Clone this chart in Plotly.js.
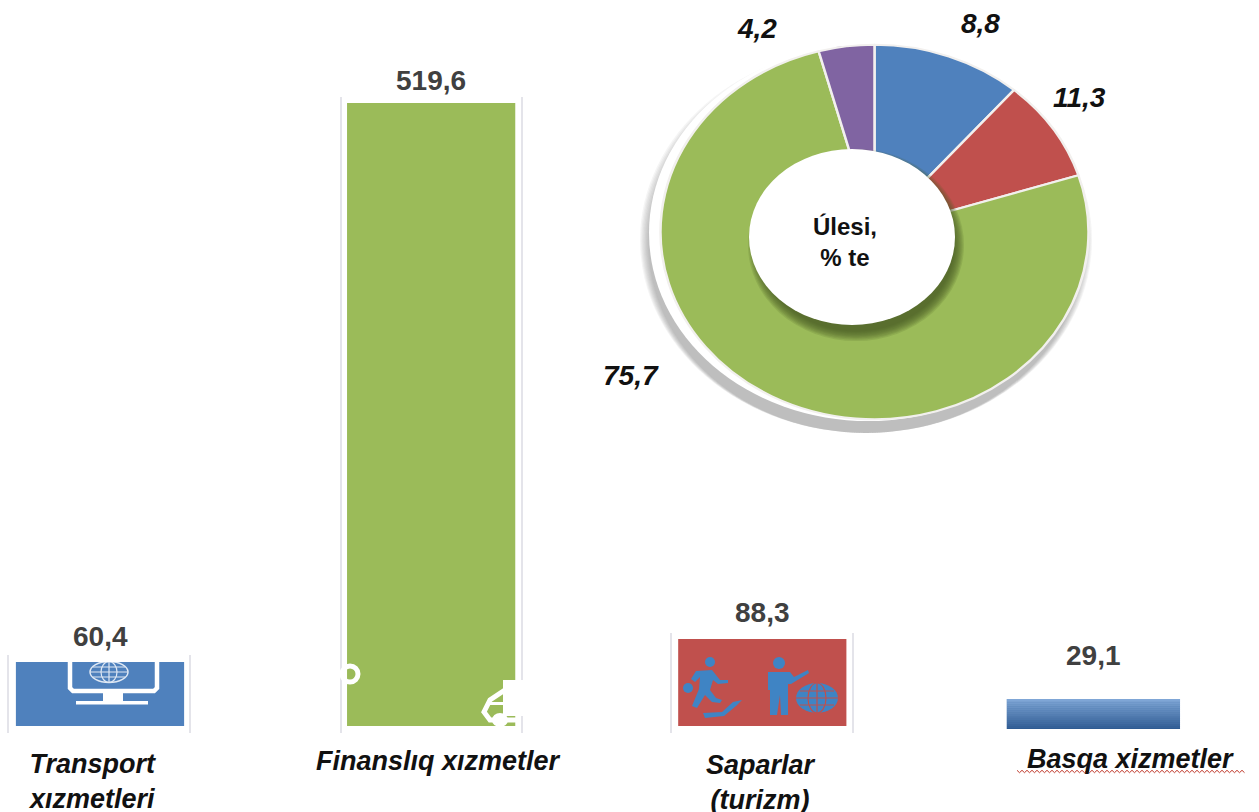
<!DOCTYPE html>
<html>
<head>
<meta charset="utf-8">
<script src="https://cdn.plot.ly/plotly-3.0.1.min.js"></script>
<style>
html,body{margin:0;padding:0;background:#fff;overflow:hidden}
#chart{width:1259px;height:812px}
/* the reference's doughnut is a squashed circle */
.pielayer{transform-origin:874.5px 232px;transform:scaleY(.875)}
</style>
</head>
<body>
<div id="chart"></div>
<script>
// Data
const categories = ['Transport xızmetleri', 'Finanslıq xızmetler', 'Saparlar (turizm)', 'Basqa xizmetler'];
const categoryLabels = ['Transport<br>xızmetleri', 'Finanslıq xızmetler', 'Saparlar<br>(turizm)', 'Basqa xizmetler'];
const printedValues = ['60,4', '519,6', '88,3', '29,1'];
// The reference's bars are not drawn to the scale of their printed values: heights.
const drawnHeights = [53.4, 519.6, 72.5, 25];
const drawnBases = [0, 0, 0, -2.5];
const barColors = ['#4F81BD', '#9BBB59', '#C0504D', '#4F7DB3'];
const barWidths = [0.508, 0.508, 0.508, 0.523];

const shareNames = ['Transport xızmetleri', 'Saparlar (turizm)', 'Finanslıq xızmetler', 'Basqa xizmetler'];
const shareValues = [11.3, 8.8, 75.7, 4.2];        // slice sizes as drawn
const shareColors = ['#4F81BD', '#C0504D', '#9BBB59', '#8064A2'];
const sharePrinted = ['8,8', '11,3', '75,7', '4,2']; // labels as printed beside them
const centreLabel = 'Úlesi,<br>% te';

// Layout helpers (page pixels to paper fractions)
const W = 1259, H = 812;
const px = x => x / W, py = y => 1 - y / H;
const P = (x, y) => px(x) + ' ' + py(y);
const path = (d, fill, lineColor, lineWidth, layer) => {
  const s = d.map(seg => seg[0] + (seg.length > 1 ? P(seg[1], seg[2]) : '')).join(' ');
  return {type:'path', xref:'paper', yref:'paper', path:s, fillcolor:fill||'rgba(0,0,0,0)',
          line:{color:lineColor||'rgba(0,0,0,0)', width:lineWidth||0}, layer:layer||'above'};
};
const ell = (cx, cy, rx, ry, fill, lineColor, lineWidth, layer) => ({
  type:'circle', xref:'paper', yref:'paper', x0:px(cx-rx), x1:px(cx+rx), y0:py(cy+ry), y1:py(cy-ry),
  fillcolor:fill||'rgba(0,0,0,0)', line:{color:lineColor||'rgba(0,0,0,0)', width:lineWidth||0}, layer:layer||'above'});
const poly = (pts, fill, lineColor, lineWidth) =>
  path(pts.map((p,i)=>[(i?'L':'M'),p[0],p[1]]).concat(fill?[['Z']]:[]), fill, lineColor, lineWidth);
const rect = (x0,y0,x1,y1,fill) => poly([[x0,y0],[x1,y0],[x1,y1],[x0,y1]], fill);

const shapes = [];

// Soft shadow and pale rim behind the doughnut
for (let i = 0; i < 8; i++) {
  shapes.push(ell(866, 240 + i*0.6, 226 - i*1.2 , 193 + 0.3*i - i*0.9, 'rgba(120,120,120,0.07)', null, 0, 'below'));
}
shapes.push(ell(868, 233, 219, 188, '#ffffff', null, 0, 'below'));

// Faint picture frames next to the bars
[[8,190,655,733],[341,522,97,733],[671,853,633,733]].forEach(f => {
  shapes.push(poly([[f[0],f[2]],[f[0],f[3]]], null, '#e4e4ea', 2));
  shapes.push(poly([[f[1],f[2]],[f[1],f[3]]], null, '#e4e4ea', 2));
});

// Gradient on the fourth bar, bands computed over the bar's own height
const bands = 16, b3 = 3, gradTop = ['7f','a6','d6'], gradBot = ['2f','5b','92'];
for (let i = 0; i < bands; i++) {
  const t = i / (bands - 1);
  const mix = gradTop.map((h,k)=>Math.round(parseInt(h,16)*(1-t)+parseInt(gradBot[k],16)*t));
  const y1 = drawnBases[b3] + drawnHeights[b3] * (1 - i / bands);
  const y0 = drawnBases[b3] + drawnHeights[b3] * (1 - (i + 1) / bands);
  shapes.push({type:'rect', xref:'x', yref:'y', x0:b3-barWidths[b3]/2, x1:b3+barWidths[b3]/2, y0:y0, y1:y1,
               fillcolor:'rgb('+mix.join(',')+')', line:{width:0}, layer:'above'});
}

// Monitor icon on the first bar
shapes.push(poly([[70,662],[70,688],[73,691],[154,691],[157,688],[157,662]], null, '#fff', 4.5));
shapes.push(rect(103,692,123,703,'#fff'));
shapes.push(rect(76,701,148,704.5,'#fff'));
const gc = '#dfe8f4';
shapes.push(ell(109,672,19,10.5,null,gc,1.5));
shapes.push(ell(109,672,8,10.5,null,gc,1.2));
shapes.push(poly([[109,661.5],[109,682.5]],null,gc,1.2));
shapes.push(poly([[90,672],[128,672]],null,gc,1.2));
shapes.push(poly([[93,667],[125,667]],null,gc,1));
shapes.push(poly([[93,677],[125,677]],null,gc,1));
shapes.push(rect(60,655,165,662,'#fff'));

// Cut-off white glyphs on the second bar
shapes.push(ell(350,674,8,8,null,'#fff',5));
shapes.push(poly([[516,686],[505,690],[490,700],[484,712],[490,720],[516,720]], null, '#fff', 5));
shapes.push(rect(503,680,524,716,'#fff'));
shapes.push(ell(500,720,8,7,'#fff'));
shapes.push(rect(487,702,503,705,'#fff'));

// Blue figures on the third bar
const ic = '#3f84c4';
shapes.push(ell(710,662,5,5,ic));
shapes.push(poly([[696,671],[712,670],[720,680],[728,680],[728,683],[718,684],[713,680],[710,690],[716,698],[722,700],[720,703],[712,702],[705,695],[697,708],[692,706],[699,689],[700,677],[695,682],[691,679]], ic));
shapes.push(ell(688,688,5,5,ic));
shapes.push(poly([[703,713],[722,712],[733,702],[742,700],[736,706],[724,716],[705,718]], ic));
shapes.push(ell(779,663,6,6,ic));
shapes.push(poly([[768,672],[790,672],[794,677],[808,670],[809,673],[791,684],[788,684],[788,715],[781,715],[780,695],[777,715],[770,715],[770,690],[768,690]], ic));
shapes.push(ell(817,698,21,15,ic));
const rc = '#C0504D';
shapes.push(ell(817,698,9,15,null,rc,1.2));
shapes.push(poly([[817,683],[817,713]],null,rc,1.2));
shapes.push(poly([[796,698],[838,698]],null,rc,1.2));
shapes.push(poly([[800,691],[834,691]],null,rc,1));
shapes.push(poly([[800,705],[834,705]],null,rc,1));

// Blurred shadow and white centre of the doughnut
for (let i = 0; i < 9; i++) {
  shapes.push(ell(856, 245, 108 - i*1.2, 96 - i*1.2, 'rgba(75,95,35,0.16)'));
}
shapes.push(ell(852,237,103,88,'#ffffff'));

// Red spell-check squiggle below the last label
const sq = [];
for (let x = 1017, i = 0; x <= 1245; x += 2.5, i++) sq.push([x, 771.5 + (i % 2 ? 1.2 : -1.2)]);
shapes.push(poly(sq, null, '#c0392b', 1));

// Text
const annotations = [];
const font = (size, color, bold, italic) => ({family:'"Liberation Sans", Arial, sans-serif', size:size, color:color,
  weight: bold ? 700 : 400, style: italic ? 'italic' : 'normal'});
const catPlace = [[92,781],[439,761],[761,782],[1130,759]];
categoryLabels.forEach((t,i) => annotations.push({
  xref:'paper', yref:'paper', x:px(catPlace[i][0]), y:py(catPlace[i][1]), text:t, showarrow:false,
  xanchor:'center', yanchor:'middle', align:'center', font:font(27,'#111',true,true)}));
const valShift = [26, 23, 27, 44];
printedValues.forEach((t,i) => annotations.push({
  x:categories[i], y:drawnBases[i]+drawnHeights[i], yshift:valShift[i], text:t, showarrow:false,
  xanchor:'center', yanchor:'middle', font:font(28,'#404040',true,false)}));
const sharePlace = [[980,23],[1079,97],[631,375],[757,29]];
sharePrinted.forEach((t,i) => annotations.push({
  xref:'paper', yref:'paper', x:px(sharePlace[i][0]), y:py(sharePlace[i][1]), text:t, showarrow:false,
  xanchor:'center', yanchor:'middle', font:font(28,'#111',true,true)}));
annotations.push({xref:'paper', yref:'paper', x:px(845), y:py(242), text:centreLabel, showarrow:false,
  xanchor:'center', yanchor:'middle', align:'center', font:font(24,'#111',true,false)});

const traces = [
  {type:'bar', x:categories, y:drawnHeights, base:drawnBases, width:barWidths,
   marker:{color:barColors, line:{width:0}}, hoverinfo:'skip', showlegend:false},
  {type:'pie', labels:shareNames, values:shareValues, sort:false, direction:'clockwise', rotation:0,
   marker:{colors:shareColors, line:{color:'#f2f0ee', width:2.5}}, textinfo:'none', hoverinfo:'skip', showlegend:false,
   domain:{x:[px(660.5),px(1088.5)], y:[py(446),py(18)]}}
];

const layout = {
  width:W, height:H, margin:{l:0,r:0,t:0,b:0}, paper_bgcolor:'#fff', plot_bgcolor:'rgba(0,0,0,0)',
  showlegend:false,
  xaxis:{type:'category', categoryorder:'array', categoryarray:categories, range:[-0.302,3.5], visible:false, fixedrange:true},
  yaxis:{range:[-71.7,605.5], visible:false, fixedrange:true},
  shapes:shapes, annotations:annotations
};
Plotly.newPlot('chart', traces, layout, {displayModeBar:false, staticPlot:true});
</script>
</body>
</html>
